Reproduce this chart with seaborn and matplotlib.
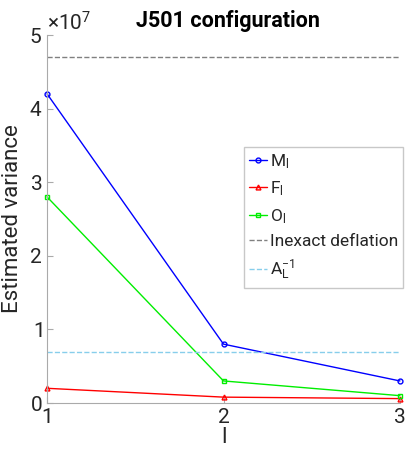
import matplotlib
matplotlib.use("Agg")
import matplotlib.pyplot as plt
import seaborn as sns
import pandas as pd

# Data
l_vals = [1, 2, 3]
m_vals = [4.2e7, 0.8e7, 0.3e7]
f_vals = [0.2e7, 0.08e7, 0.06e7]
o_vals = [2.8e7, 0.3e7, 0.1e7]
inexact_deflation = 4.7e7
a_inv = 0.7e7

sns.set_style("ticks")
plt.rcParams["font.family"] = ["Roboto", "DejaVu Sans"]
plt.rcParams["mathtext.fontset"] = "custom"
plt.rcParams["mathtext.rm"] = "Roboto"
plt.rcParams["mathtext.it"] = "Roboto:italic"

df = pd.DataFrame({"l": l_vals * 3,
                   "value": m_vals + f_vals + o_vals,
                   "series": ["M"] * 3 + ["F"] * 3 + ["O"] * 3})

fig = plt.figure(figsize=(4.06, 4.49), dpi=100)
ax = fig.add_axes([0.116, 0.1024, 0.869, 0.8196])

styles = {"M": ("#0000ff", "o", r"M$_\mathregular{l}$"),
          "F": ("#ff0000", "^", r"F$_\mathregular{l}$"),
          "O": ("#00ee00", "s", r"O$_\mathregular{l}$")}
for key, (c, mk, lab) in styles.items():
    sub = df[df["series"] == key]
    sns.lineplot(data=sub, x="l", y="value", color=c, marker=mk, markersize=3.5,
                 markerfacecolor="none", markeredgecolor=c, markeredgewidth=1,
                 linewidth=1, label=lab, ax=ax, clip_on=False)

ax.axhline(inexact_deflation, color="#808080", linestyle="--", linewidth=1, label="Inexact deflation")
ax.axhline(a_inv, color="#87ceeb", linestyle="--", linewidth=1, label=r"A$_\mathregular{L}^\mathregular{-1}$")

ax.set_xlim(1, 3)
ax.set_ylim(0, 5e7)
ax.set_xticks([1, 2, 3])
ax.set_yticks([0, 1e7, 2e7, 3e7, 4e7, 5e7])
ax.ticklabel_format(axis="y", style="sci", scilimits=(7, 7), useMathText=True)
ax.yaxis.get_offset_text().set_fontsize(15)
ax.yaxis.get_offset_text().set_color("#262626")

for s in ["top", "right"]:
    ax.spines[s].set_visible(False)
for s in ["left", "bottom"]:
    ax.spines[s].set_color("#aaaaaa")
ax.tick_params(colors="#262626", labelsize=15, direction="in", length=4)
ax.tick_params(axis="both", color="#aaaaaa")

ax.set_xlabel("l", fontsize=16, color="#262626", labelpad=0)
ax.set_ylabel("Estimated variance", fontsize=16, color="#262626")
fig.text(0.561, 0.953, "J501 configuration", fontsize=15.5, fontweight="bold",
         ha="center", va="center", color="black")

leg = ax.legend(loc="upper left", bbox_to_anchor=(0.558, 0.696), fontsize=12.5,
                frameon=True, fancybox=False, handlelength=1.0, handletextpad=0.2,
                borderaxespad=0, borderpad=0.3, labelspacing=0.5)
leg.get_frame().set_edgecolor("#bbbbbb")
leg.get_frame().set_linewidth(1)

fig.savefig("out.png", dpi=100)
